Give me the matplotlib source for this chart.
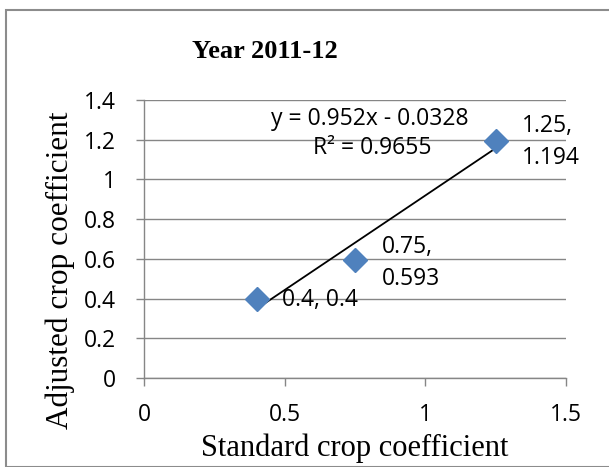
import matplotlib
matplotlib.use("Agg")
import matplotlib.pyplot as plt
from matplotlib.patches import Rectangle
import numpy as np

x_vals = [0.4, 0.75, 1.25]
y_vals = [0.4, 0.593, 1.194]
point_labels = ["0.4, 0.4", "0.75,\n0.593", "1.25,\n1.194"]
slope = 0.952
intercept = -0.0328
r2 = 0.9655
x_ticks = [0, 0.5, 1, 1.5]
x_tick_labels = ["0", "0.5", "1", "1.5"]
y_ticks = [0, 0.2, 0.4, 0.6, 0.8, 1.0, 1.2, 1.4]
y_tick_labels = ["0", "0.2", "0.4", "0.6", "0.8", "1", "1.2", "1.4"]

W, H = 609, 467
fig = plt.figure(figsize=(W/100, H/100), dpi=100)
fig.patch.set_facecolor("white")
fig.patches.append(Rectangle((6/W, 0), 1, 1 - 10/H, transform=fig.transFigure,
                             fill=False, edgecolor="#8c8c8c", linewidth=1.5))

ax = fig.add_axes([144/W, 1 - 378/H, (566-144)/W, (378-100)/H])
ax.set_xlim(0, 1.5)
ax.set_ylim(0, 1.4)
ax.set_facecolor("none")
for s in ["top", "right"]:
    ax.spines[s].set_visible(False)
for s in ["left", "bottom"]:
    ax.spines[s].set_color("#868686")
    ax.spines[s].set_linewidth(1.0)
ax.yaxis.grid(True, color="#868686", linewidth=1.0)
ax.set_axisbelow(True)

ax.set_xticks(x_ticks)
ax.set_xticklabels(x_tick_labels)
ax.set_yticks(y_ticks)
ax.set_yticklabels(y_tick_labels)
sans = "Open Sans"
fs = 16.5
ax.tick_params(axis="both", colors="#868686", labelcolor="black", length=6, width=1,
               labelsize=fs, direction="out")
ax.tick_params(axis="x", pad=12)
ax.tick_params(axis="y", pad=14)
for lbl in ax.get_xticklabels() + ax.get_yticklabels():
    lbl.set_family(sans)

xt = np.array([min(x_vals), max(x_vals)])
ax.plot(xt, slope*xt + intercept, color="black", linewidth=1.3, zorder=3)
ax.plot(x_vals, y_vals, linestyle="none", marker="D", markersize=12,
        color="#4F81BD", markeredgecolor="#4F81BD", zorder=4)

# data labels
offsets = [(18, -1), (19, -2), (19, -1)]
for (xv, yv, lab, off) in zip(x_vals, y_vals, point_labels, offsets):
    ax.annotate(lab, (xv, yv), xytext=off, textcoords="offset points",
                ha="left", va="center", fontsize=fs, family=sans, linespacing=1.45)

fig.text(370/W, 1 - 119/H, "y = 0.952x - 0.0328", ha="center", va="center",
         fontsize=fs, family=sans)
fig.text(372/W, 1 - 148/H, "R² = 0.9655", ha="center", va="center",
         fontsize=fs, family=sans)

fig.text(265/W, 1 - 51/H, "Year 2011-12", ha="center", va="center",
         fontsize=19, fontweight="bold", family="Liberation Serif")
fig.text(355/W, 1 - 448/H, "Standard crop coefficient", ha="center", va="center",
         fontsize=22, family="Liberation Serif")
fig.text(60/W, 1 - 270/H, "Adjusted crop coefficient", ha="center", va="center",
         rotation=90, fontsize=22.5, family="Liberation Serif")

fig.savefig("out.png", dpi=100)
